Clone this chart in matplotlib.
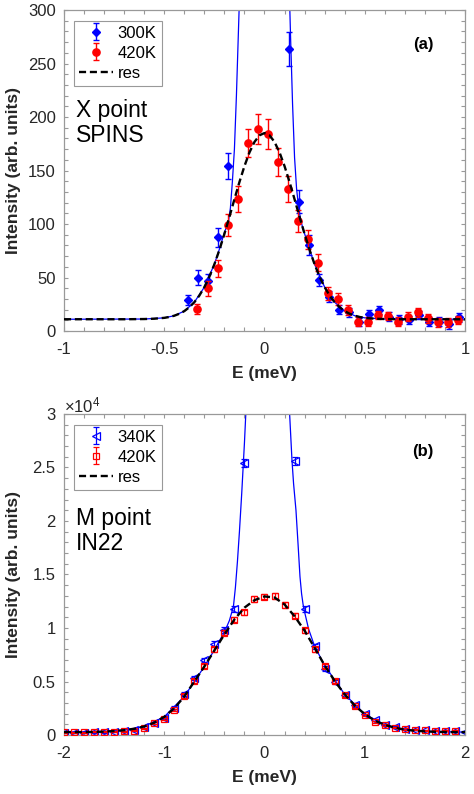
import numpy as np
import matplotlib
matplotlib.use("Agg")
import matplotlib.pyplot as plt
from matplotlib.ticker import MultipleLocator, FuncFormatter

plt.rcParams['font.family'] = ['Liberation Sans', 'DejaVu Sans']
plt.rcParams['axes.unicode_minus'] = False
plt.rcParams['mathtext.fontset'] = 'custom'
plt.rcParams['mathtext.rm'] = 'Liberation Sans'

# ---------------- Panel (a): X point, SPINS ----------------
a300_x = [-0.38, -0.33, -0.28, -0.23, -0.18, 0.12, 0.17, 0.22, 0.27, 0.32, 0.37,
          0.42, 0.47, 0.52, 0.57, 0.62, 0.67, 0.72, 0.77, 0.82, 0.87, 0.92, 0.97]
a300_y = [29, 50, 47, 87.5, 154.5, 263.6, 121, 80.4, 47.7, 32, 20,
          17.4, 8.4, 15.9, 19.6, 13.4, 10.9, 10.3, 15, 8.7, 8.7, 6.2, 12.8]
a300_e = [5, 7, 6, 9, 12, 16, 10.5, 9, 6, 5, 4,
          4, 4, 4, 4, 4, 4, 4, 4, 4, 4, 4, 4]

a420_x = [-0.335, -0.283, -0.234, -0.184, -0.134, -0.084, -0.034, 0.016, 0.066, 0.116,
          0.166, 0.216, 0.266, 0.316, 0.366, 0.416, 0.466, 0.516, 0.566, 0.616,
          0.666, 0.716, 0.766, 0.816, 0.866, 0.916, 0.966]
a420_y = [20.6, 39.9, 58.6, 99, 123.4, 175.4, 188.5, 183.8, 157.6, 132.7,
          103, 85.7, 63.9, 35.2, 29.9, 19.6, 8.7, 8.7, 15, 14,
          8.7, 13.4, 17.4, 11.8, 8.1, 8.1, 10.3]
a420_e = [5, 7, 8, 10, 12, 13, 14, 14, 13, 12,
          10, 9, 8, 6, 6, 5, 4, 4, 4, 4,
          4, 4, 4, 4, 4, 4, 4]

a_res_x = [-1.0, -0.7, -0.6, -0.55, -0.5, -0.475, -0.45, -0.425, -0.4, -0.375, -0.35,
           -0.325, -0.3, -0.275, -0.25, -0.225, -0.2, -0.175, -0.15, -0.125, -0.1,
           -0.075, -0.05, -0.025, 0.0, 0.025, 0.05, 0.075, 0.1, 0.125, 0.15, 0.175,
           0.2, 0.225, 0.25, 0.275, 0.3, 0.325, 0.35, 0.375, 0.4, 0.425, 0.45, 0.475,
           0.5, 0.55, 0.6, 0.7, 1.0]
a_res_y = [11.0, 11.0, 11.2, 11.5, 12.3, 13.1, 14.3, 16.1, 18.6, 22.2, 26.9,
           33.1, 41.0, 50.7, 62.3, 75.7, 90.7, 106.7, 123.1, 139.2, 154.1,
           166.9, 176.7, 182.9, 185.0, 182.9, 176.7, 166.9, 154.1, 139.2, 123.1, 106.7,
           90.7, 75.7, 62.3, 50.7, 41.0, 33.1, 26.9, 22.2, 18.6, 16.1, 14.3, 13.1,
           12.3, 11.5, 11.2, 11.0, 11.0]

a_fit_x = [-1.0, -0.6, -0.5, -0.45, -0.4, -0.35, -0.3, -0.25, -0.225, -0.2, -0.19,
           -0.18, -0.17, -0.16, -0.15, -0.14, -0.13, -0.125, -0.1, 0.0, 0.1, 0.125,
           0.13, 0.14, 0.15, 0.16, 0.17, 0.18, 0.19, 0.2, 0.225, 0.25, 0.3, 0.35,
           0.4, 0.45, 0.5, 0.6, 1.0]
a_fit_y = [11.0, 11.2, 12.3, 14.3, 18.6, 26.9, 41.0, 62.5, 76.5, 92, 97,
           102, 115, 140, 170, 220, 280, 310, 800, 3000, 800, 310,
           275, 212, 162, 133, 116, 104, 97, 91, 76, 62.3, 41.0, 26.9,
           18.6, 14.3, 12.3, 11.2, 11.0]

# ---------------- Panel (b): M point, IN22 (values in units of 1000) ----------------
b340_x = [-2.0, -1.9, -1.8, -1.7, -1.6, -1.5, -1.4, -1.3, -1.2, -1.1, -1.0, -0.9, -0.8,
          -0.7, -0.6, -0.5, -0.4, -0.3, -0.2, 0.3, 0.4, 0.5, 0.6, 0.7, 0.8, 0.9, 1.0,
          1.1, 1.2, 1.3, 1.4, 1.5, 1.6, 1.7, 1.8, 1.9, 2.0]
b340_y = [0.2, 0.2, 0.22, 0.25, 0.27, 0.3, 0.35, 0.48, 0.75, 1.15, 1.6, 2.55, 3.8,
          5.35, 7.0, 8.5, 9.8, 11.8, 25.4, 25.6, 11.8, 8.3, 6.2, 4.95, 3.7, 2.8, 2.0,
          1.4, 0.97, 0.75, 0.6, 0.5, 0.45, 0.42, 0.4, 0.35, 0.3]
b340_e = [0.05, 0.05, 0.05, 0.05, 0.05, 0.05, 0.06, 0.07, 0.08, 0.1, 0.12, 0.15, 0.18,
          0.2, 0.22, 0.24, 0.25, 0.28, 0.4, 0.4, 0.28, 0.24, 0.22, 0.2, 0.18, 0.15, 0.12,
          0.1, 0.08, 0.07, 0.07, 0.06, 0.06, 0.06, 0.06, 0.05, 0.05]

b420_x = [-2.0, -1.9, -1.8, -1.7, -1.6, -1.5, -1.4, -1.3, -1.2, -1.1, -1.0, -0.9, -0.8,
          -0.7, -0.6, -0.5, -0.4, -0.3, -0.2, -0.1, 0.0, 0.1, 0.2, 0.3, 0.4, 0.5, 0.6,
          0.7, 0.8, 0.9, 1.0, 1.1, 1.2, 1.3, 1.4, 1.5, 1.6, 1.7, 1.8, 1.9]
b420_y = [0.25, 0.25, 0.27, 0.3, 0.32, 0.3, 0.33, 0.42, 0.62, 1.09, 1.47, 2.34, 3.64,
          5.05, 6.45, 8.01, 9.57, 10.76, 11.47, 12.69, 12.94, 13.0, 12.16, 11.13, 9.8, 8.01, 6.49,
          5.05, 3.7, 2.68, 1.9, 1.25, 0.93, 0.68, 0.55, 0.48, 0.45, 0.42, 0.4, 0.38]
b420_e = [0.05, 0.05, 0.05, 0.05, 0.05, 0.05, 0.05, 0.06, 0.07, 0.09, 0.1, 0.12, 0.15,
          0.17, 0.19, 0.21, 0.23, 0.24, 0.25, 0.26, 0.26, 0.26, 0.25, 0.24, 0.23, 0.21, 0.19,
          0.17, 0.15, 0.12, 0.1, 0.09, 0.07, 0.06, 0.06, 0.05, 0.05, 0.05, 0.05, 0.05]

b_res_x = [-2.0, -1.9, -1.8, -1.7, -1.6, -1.5, -1.4, -1.3, -1.2, -1.1, -1.0, -0.9, -0.8,
           -0.7, -0.6, -0.5, -0.4, -0.3, -0.2, -0.1, 0.0, 0.1, 0.2, 0.3, 0.4, 0.5, 0.6,
           0.7, 0.8, 0.9, 1.0, 1.1, 1.2, 1.3, 1.4, 1.5, 1.6, 1.7, 1.8, 1.9, 2.0]
b_res_y = [0.27, 0.27, 0.27, 0.29, 0.32, 0.37, 0.45, 0.58, 0.8, 1.15, 1.7, 2.5, 3.6,
           5.0, 6.4, 7.9, 9.4, 10.8, 11.9, 12.6, 12.95, 12.85, 12.2, 11.1, 9.75, 8.15, 6.5,
           5.05, 3.8, 2.75, 1.95, 1.35, 0.95, 0.68, 0.5, 0.4, 0.34, 0.3, 0.28, 0.27, 0.27]

b_fit_x = [-2.0, -1.6, -1.4, -1.2, -1.0, -0.8, -0.6, -0.5, -0.45, -0.4, -0.35, -0.31,
           -0.29, -0.27, -0.25, -0.227, -0.2, -0.184, -0.15, -0.1, 0.03, 0.15, 0.2, 0.23,
           0.248, 0.274, 0.29, 0.314, 0.335, 0.354, 0.37, 0.385, 0.4, 0.44, 0.5, 0.55,
           0.6, 0.8, 1.0, 1.2, 1.4, 1.6, 2.0]
b_fit_y = [0.27, 0.32, 0.45, 0.8, 1.7, 3.6, 6.4, 7.95, 8.8, 9.6, 10.7, 12.0,
           13.8, 16.2, 19.0, 22.6, 27.3, 30.5, 40, 60, 300, 60, 40, 33,
           30.5, 25.7, 23.5, 21.0, 17.8, 14.8, 13.2, 12.2, 11.5, 9.9, 8.3, 7.4,
           6.5, 3.8, 1.95, 0.95, 0.5, 0.34, 0.27]

BLUE = '#0000ff'
RED = '#ff0000'
GREY = '#999999'
TXT = '#262626'
TICK_FS = 12
LAB_FS = 12.5

fig = plt.figure(figsize=(4.74, 7.94), dpi=100)
ax1 = fig.add_axes([0.135, 0.5831, 0.846, 0.4043])
ax2 = fig.add_axes([0.135, 0.0743, 0.846, 0.4043])


def style(ax):
    for s in ax.spines.values():
        s.set_color(GREY)
        s.set_linewidth(0.9)
    ax.tick_params(which='both', direction='in', top=True, right=True,
                   length=3, width=0.8, color=GREY, labelsize=TICK_FS, labelcolor=TXT)
    ax.tick_params(axis='x', pad=8)
    ax.tick_params(axis='y', pad=6)


def legend(ax, handles, labels):
    lg = ax.legend(handles, labels, loc='upper left',
                   bbox_to_anchor=(0.026, 0.967), borderaxespad=0, fontsize=12,
                   frameon=True, fancybox=False, framealpha=1, edgecolor=GREY,
                   handlelength=2.0, handletextpad=0.3, labelspacing=0.3,
                   borderpad=0.3)
    lg.get_frame().set_linewidth(0.8)
    return lg


# ---- panel (a)
ax1.plot(a_fit_x, a_fit_y, color=BLUE, lw=0.9, zorder=1)
h1 = ax1.errorbar(a300_x, a300_y, yerr=a300_e, fmt='D', color=BLUE, ms=4.3, mec=BLUE,
                  mfc=BLUE, elinewidth=1.0, capsize=2.5, capthick=1.0, zorder=2)
h2 = ax1.errorbar(a420_x, a420_y, yerr=a420_e, fmt='o', color=RED, ms=5.2, mec=RED,
                  mfc=RED, elinewidth=1.0, capsize=2.5, capthick=1.0, zorder=3)
h3, = ax1.plot(a_res_x, a_res_y, color='black', lw=1.7, ls=(0, (3.0, 1.6)), zorder=4)
ax1.set_xlim(-1, 1)
ax1.set_ylim(0, 300)
ax1.xaxis.set_major_locator(MultipleLocator(0.5))
ax1.xaxis.set_minor_locator(MultipleLocator(0.1))
ax1.yaxis.set_major_locator(MultipleLocator(50))
ax1.yaxis.set_minor_locator(MultipleLocator(10))
ax1.xaxis.set_major_formatter(FuncFormatter(lambda v, p: '%g' % v))
ax1.yaxis.set_major_formatter(FuncFormatter(lambda v, p: '%g' % v))
style(ax1)
ax1.set_xlabel('E (meV)', fontsize=LAB_FS, fontweight='bold', color=TXT)
ax1.set_ylabel('Intensity (arb. units)', fontsize=LAB_FS, fontweight='bold', color=TXT)
ax1.xaxis.set_label_coords(0.5, -0.11)
ax1.yaxis.set_label_coords(-0.108, 0.5)
legend(ax1, [h1, h2, h3], ['300K', '420K', 'res'])
ax1.text(0.895, 0.891, '(a)', transform=ax1.transAxes, fontsize=12,
         fontweight='bold', ha='center', va='center', color='black')
ax1.text(0.03, 0.648, 'X point\nSPINS', transform=ax1.transAxes, fontsize=16.5,
         ha='left', va='center', color='black', linespacing=1.1)

# ---- panel (b)
ax2.plot(b_fit_x, np.array(b_fit_y) * 1e3, color=BLUE, lw=0.9, zorder=1)
g1 = ax2.errorbar(b340_x, np.array(b340_y) * 1e3, yerr=np.array(b340_e) * 1e3, fmt='<',
                  color=BLUE, ms=6, mec=BLUE, mfc='none', mew=0.9, elinewidth=0.9,
                  capsize=2.0, capthick=0.9, zorder=2)
g2 = ax2.errorbar(b420_x, np.array(b420_y) * 1e3, yerr=np.array(b420_e) * 1e3, fmt='s',
                  color=RED, ms=4.6, mec=RED, mfc='none', mew=0.9, elinewidth=0.9,
                  capsize=2.0, capthick=0.9, zorder=3)
g3, = ax2.plot(b_res_x, np.array(b_res_y) * 1e3, color='black', lw=1.7,
               ls=(0, (3.0, 1.6)), zorder=4)
ax2.set_xlim(-2, 2)
ax2.set_ylim(0, 3e4)
ax2.xaxis.set_major_locator(MultipleLocator(1))
ax2.xaxis.set_minor_locator(MultipleLocator(0.2))
ax2.yaxis.set_major_locator(MultipleLocator(5000))
ax2.yaxis.set_minor_locator(MultipleLocator(1000))
ax2.xaxis.set_major_formatter(FuncFormatter(lambda v, p: '%g' % v))
ax2.yaxis.set_major_formatter(FuncFormatter(lambda v, p: '%g' % (v / 1e4)))
style(ax2)
ax2.set_xlabel('E (meV)', fontsize=LAB_FS, fontweight='bold', color=TXT)
ax2.set_ylabel('Intensity (arb. units)', fontsize=LAB_FS, fontweight='bold', color=TXT)
ax2.xaxis.set_label_coords(0.5, -0.11)
ax2.yaxis.set_label_coords(-0.108, 0.5)
legend(ax2, [g1, g2, g3], ['340K', '420K', 'res'])
ax2.text(0.895, 0.882, '(b)', transform=ax2.transAxes, fontsize=12,
         fontweight='bold', ha='center', va='center', color='black')
ax2.text(0.03, 0.636, 'M point\nIN22', transform=ax2.transAxes, fontsize=16.5,
         ha='left', va='center', color='black', linespacing=1.1)
ax2.text(0.0, 1.006, r'$\times\mathregular{10^{4}}$', transform=ax2.transAxes,
         fontsize=12, ha='left', va='baseline', color=TXT)

fig.savefig('out.png', dpi=100, facecolor='white')
